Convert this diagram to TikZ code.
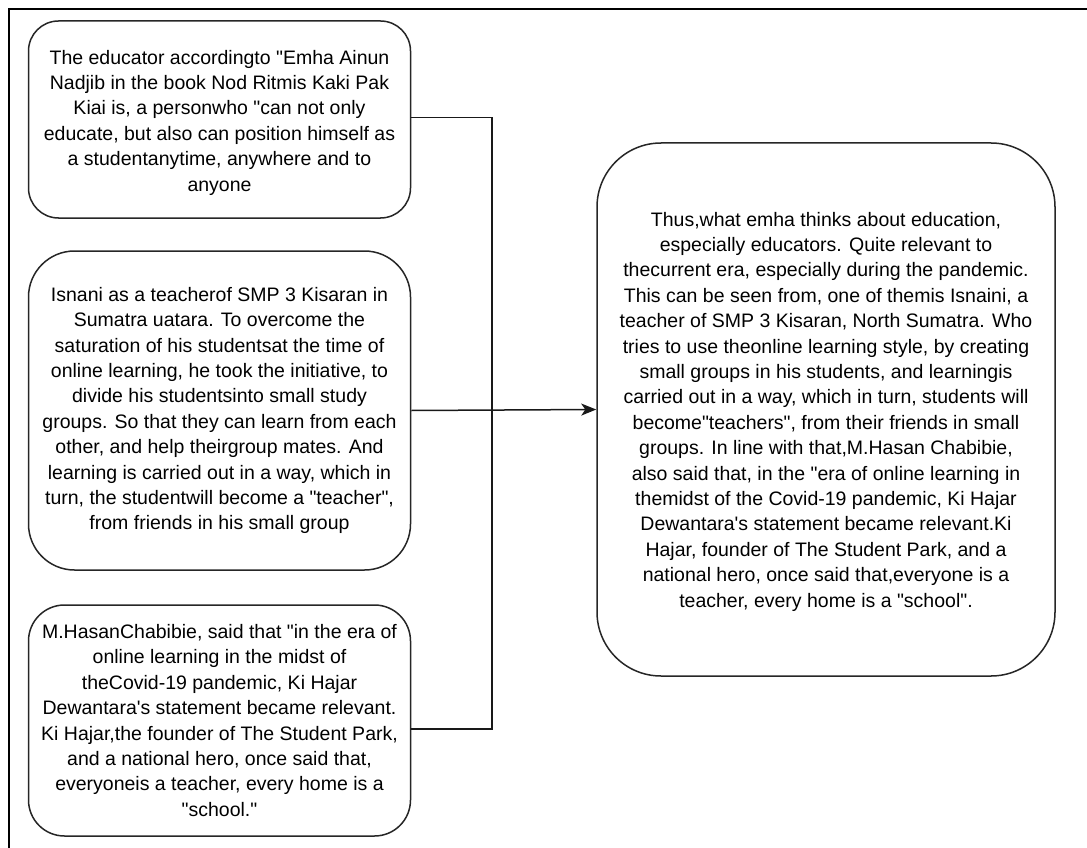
\documentclass[tikz,border=0pt]{standalone}
\usepackage{fontspec}
\setmainfont{Liberation Sans}[Ligatures=TeXOff]
\usetikzlibrary{arrows.meta}
\begin{document}
\begin{tikzpicture}[x=1pt,y=-1pt,
  txt/.style={font=\fontsize{19.5}{25.4}\selectfont, align=center, text=black, inner sep=0pt},
  card/.style={draw=black!85, line width=1.5pt, fill=white, inner sep=0pt},
  link/.style={draw=black!90, line width=1.5pt},
  frame/.style={draw=black, line width=2pt}]
\useasboundingbox (0,0) rectangle (1087,848);
\draw[frame] (9,848) -- (9,9) -- (1087,9);

\node[card, rounded corners=30pt, minimum width=382pt, minimum height=197pt] (b1) at (219.5,119.5) {};
\node[txt] (t1) at ([yshift=-3pt]b1.center)
{The educator accordingto "Emha Ainun\\
Nadjib in the book Nod Ritmis Kaki Pak\\
Kiai is, a personwho "can not only\\
educate, but also can position himself as\\
a studentanytime, anywhere and to\\
anyone};

\node[card, rounded corners=46pt, minimum width=382pt, minimum height=319pt] (b2) at (219.5,410.5) {};
\node[txt] (t2) at (b2.center)
{Isnani as a teacherof SMP 3 Kisaran in\\
Sumatra uatara. To overcome the\\
saturation of his studentsat the time of\\
online learning, he took the initiative, to\\
divide his studentsinto small study\\
groups. So that they can learn from each\\
other, and help theirgroup mates. And\\
learning is carried out in a way, which in\\
turn, the studentwill become a "teacher",\\
from friends in his small group};

\node[card, rounded corners=36pt, minimum width=382pt, minimum height=231pt] (b3) at (219.5,720.5) {};
\node[txt] (t3) at (b3.center)
{M.HasanChabibie, said that "in the era of\\
online learning in the midst of\\
theCovid-19 pandemic, Ki Hajar\\
Dewantara's statement became relevant.\\
Ki Hajar,the founder of The Student Park,\\
and a national hero, once said that,\\
everyoneis a teacher, every home is a\\
"school."};

\node[card, rounded corners=64pt, minimum width=458pt, minimum height=533pt] (r) at (826,409.5) {};
\node[txt] (tr) at ([yshift=-2pt]r.center)
{Thus,what emha thinks about education,\\
especially educators. Quite relevant to\\
thecurrent era, especially during the pandemic.\\
This can be seen from, one of themis Isnaini, a\\
teacher of SMP 3 Kisaran, North Sumatra. Who\\
tries to use theonline learning style, by creating\\
small groups in his students, and learningis\\
carried out in a way, which in turn, students will\\
become"teachers", from their friends in small\\
groups. In line with that,M.Hasan Chabibie,\\
also said that, in the "era of online learning in\\
themidst of the Covid-19 pandemic, Ki Hajar\\
Dewantara's statement became relevant.Ki\\
Hajar, founder of The Student Park, and a\\
national hero, once said that,everyone is a\\
teacher, every home is a "school".};

\coordinate (j) at (492,410.5);
\draw[link] ([yshift=2pt]b1.east) -| (j);
\draw[link] ([yshift=-8.5pt]b3.east) -| (j);
\draw[link, -{Stealth[length=15pt,width=12pt,inset=4pt]}] (b2.east) -- (r.west);
\end{tikzpicture}
\end{document}
